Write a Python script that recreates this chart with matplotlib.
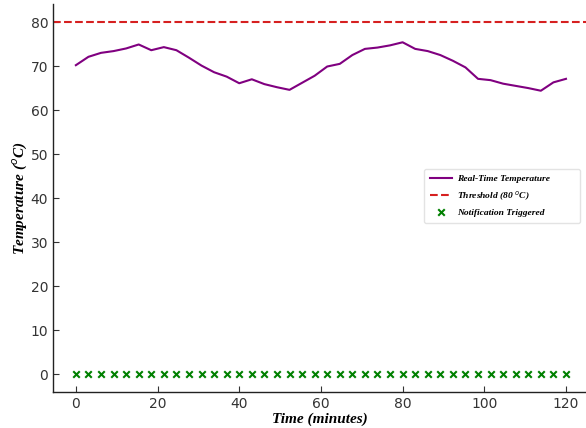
import numpy as np
import matplotlib
matplotlib.use("Agg")
import matplotlib.pyplot as plt

time_min = np.linspace(0, 120, 40)
temperature = [70.2, 72.1, 73.0, 73.4, 74.0, 74.9, 73.6, 74.3, 73.6, 71.9,
               70.1, 68.6, 67.6, 66.1, 67.0, 65.9, 65.2, 64.6, 66.2, 67.8,
               69.9, 70.5, 72.5, 73.9, 74.2, 74.7, 75.4, 73.9, 73.4, 72.5,
               71.2, 69.7, 67.1, 66.8, 66.0, 65.5, 65.0, 64.4, 66.3, 67.1]
threshold = 80
notifications = [0] * 40
xticks = [0, 20, 40, 60, 80, 100, 120]
yticks = [0, 10, 20, 30, 40, 50, 60, 70, 80]

fig = plt.figure(figsize=(5.86, 4.28), dpi=100)
ax = fig.add_axes([53/586, 36/428, (586-53)/586, (392-4.4)/428])

ax.plot(time_min, temperature, color='purple', lw=1.5, label='Real-Time Temperature')
ax.axhline(threshold, color='#d62020', ls='--', lw=1.5, label='Threshold (80 $^{o}$C)')
ax.scatter(time_min, notifications, marker='x', color='green', s=22, lw=1.5,
           label='Notification Triggered', zorder=3)

ax.set_xlim(-5.6, 124.9)
ax.set_ylim(-4, 84)
ax.set_xticks(xticks)
ax.set_yticks(yticks)
ax.spines['top'].set_visible(False)
ax.spines['right'].set_visible(False)
for s in ['left', 'bottom']:
    ax.spines[s].set_color('#222222')
    ax.spines[s].set_linewidth(1.0)
ax.tick_params(direction='in', length=4, labelsize=10, colors='#333333')

lab_font = dict(family='Liberation Serif', weight='bold', style='italic', size=11)
ax.set_xlabel('Time (minutes)', fontdict=lab_font, labelpad=1)
ax.set_ylabel('Temperature ($^{o}$C)', fontdict=lab_font, labelpad=1)

leg = ax.legend(loc='center', mode='expand',
                bbox_to_anchor=(0.696, 0.439, 0.293, 0.134),
                prop=dict(family='Liberation Serif', weight='bold', style='italic', size=6.8),
                frameon=True, borderpad=0.65, labelspacing=0.6, handlelength=2.3,
                handletextpad=0.6, borderaxespad=0)
leg.get_frame().set_edgecolor('#dddddd')

fig.savefig('out.png', dpi=100)
